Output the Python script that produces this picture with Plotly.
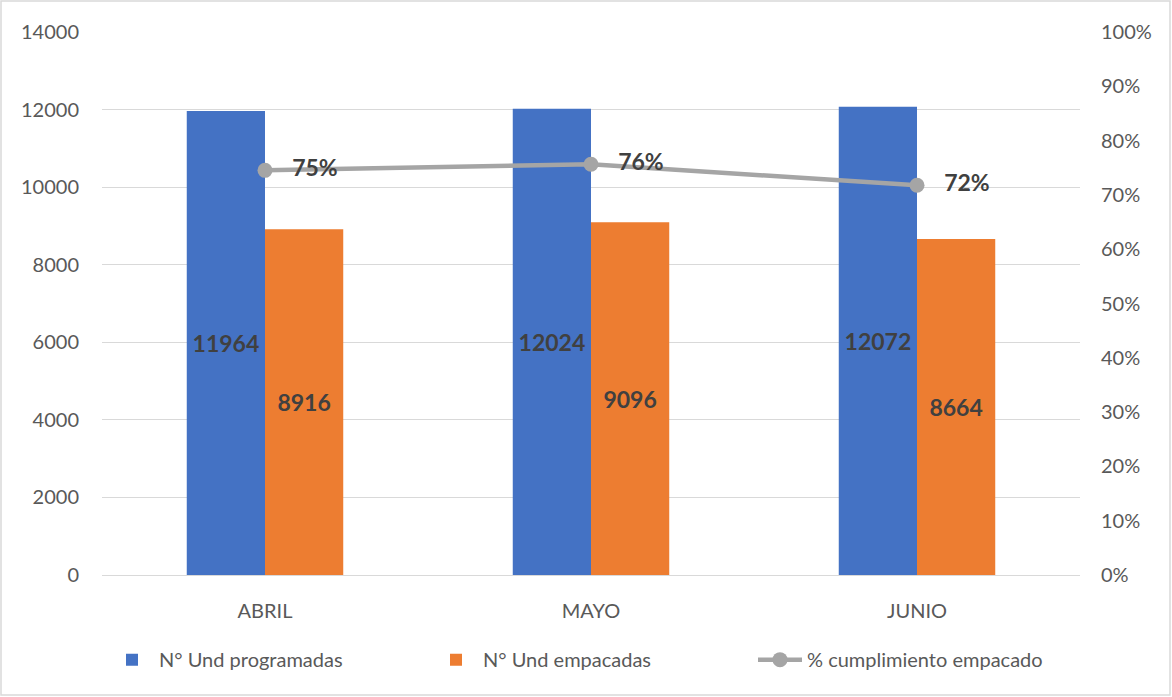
import plotly.graph_objects as go

meses = ["ABRIL", "MAYO", "JUNIO"]
programadas = [11964, 12024, 12072]
empacadas = [8916, 9096, 8664]
cumplimiento = [e / p for e, p in zip(empacadas, programadas)]
etiquetas_pct = ["75%", "76%", "72%"]

FONT = "Lato, 'Open Sans', sans-serif"
W, H = 1172, 697
ML, MR, MT, MB = 102, 92, 32, 122

fig = go.Figure()

fig.add_trace(go.Bar(
    x=meses, y=programadas, name="N° Und programadas",
    marker=dict(color="#4472C4", line=dict(width=0)),
    text=[str(v) for v in programadas], textposition="inside",
    insidetextanchor="middle",
    textfont=dict(family=FONT, size=23, color="#404040", weight="bold"),
))
fig.add_trace(go.Bar(
    x=meses, y=empacadas, name="N° Und empacadas",
    marker=dict(color="#ED7D31", line=dict(width=0)),
    text=[str(v) for v in empacadas], textposition="inside",
    insidetextanchor="middle",
    textfont=dict(family=FONT, size=23, color="#404040", weight="bold"),
))
fig.add_trace(go.Scatter(
    x=meses, y=cumplimiento, name="% cumplimiento empacado",
    yaxis="y2", mode="lines+markers+text",
    line=dict(color="#A5A5A5", width=4.5),
    marker=dict(color="#A5A5A5", size=15),
    text=["   " + t for t in etiquetas_pct], textposition="middle right",
    textfont=dict(family=FONT, size=23, color="#404040", weight="bold"),
))

fig.update_layout(
    width=W, height=H,
    margin=dict(l=ML, r=MR, t=MT, b=MB),
    paper_bgcolor="white", plot_bgcolor="white",
    barmode="group", bargap=0.52, bargroupgap=0,
    uniformtext=dict(minsize=10, mode="show"),
    font=dict(family=FONT, size=18, color="#595959"),
    xaxis=dict(showgrid=False, showline=True, linecolor="#D9D9D9",
               linewidth=1, ticks="", ticklabelstandoff=18,
               tickfont=dict(size=20)),
    yaxis=dict(range=[0, 14000], dtick=2000, showgrid=True,
               gridcolor="#D9D9D9", gridwidth=1, zeroline=False,
               showline=False, ticks="", tickformat="d",
               ticklabelstandoff=22, tickfont=dict(size=20)),
    yaxis2=dict(range=[0, 1], dtick=0.1, tickformat=".0%",
                overlaying="y", side="right", showgrid=False,
                zeroline=False, showline=False, ticks="",
                ticklabelstandoff=20, tickfont=dict(size=20)),
    legend=dict(orientation="h", x=0.5, xanchor="center",
                y=-0.12, yanchor="top",
                font=dict(size=20, color="#595959"),
                itemwidth=44, entrywidth=265, entrywidthmode="pixels",
                tracegroupgap=0),
    shapes=[dict(type="rect", xref="paper", yref="paper",
                 x0=-(ML - 1) / (W - ML - MR),
                 x1=1 + (MR - 2) / (W - ML - MR),
                 y0=-(MB - 2) / (H - MT - MB),
                 y1=1 + (MT - 1) / (H - MT - MB),
                 line=dict(color="#D9D9D9", width=1.5),
                 fillcolor="rgba(0,0,0,0)", layer="below")],
)

fig.write_html("out.html")
